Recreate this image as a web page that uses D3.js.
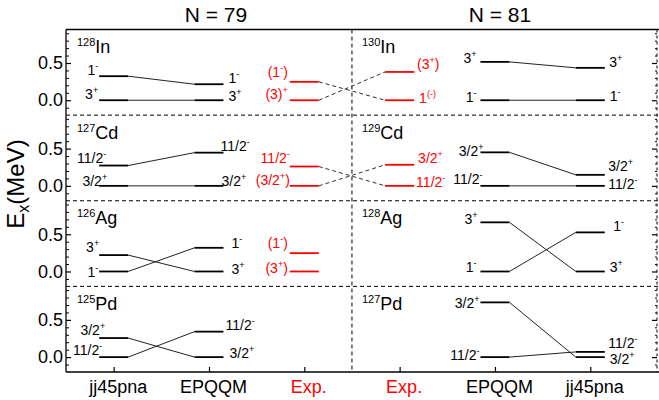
<!DOCTYPE html>
<html><head><meta charset="utf-8">
<script src="https://cdn.jsdelivr.net/npm/d3@7"></script>
<style>
body{margin:0;background:#fff}
svg{display:block}
text{font-family:"Liberation Sans",Arial,Helvetica,sans-serif;fill:#000}
</style>
</head><body>
<svg id="c" width="659" height="400"></svg>
<script>
// ---------------- data ----------------
const columns = ["jj45pna","EPQQM","Exp.","Exp.","EPQQM","jj45pna"];
const titles = ["N = 79","N = 81"];
const elements = ["In","Cd","Ag","Pd"];
const massN79 = ["128","127","126","125"];
const massN81 = ["130","129","128","127"];
const yTickValues = [0, 0.5];
const yTickLabels = ["0.0","0.5"];
const yMinorValues = [-0.1,0.1,0.2,0.3,0.4,0.6,0.7,0.8,0.9];

// state identities per row (In, Cd, Ag, Pd)
const spinsN79 = [["3+","1-"],["3/2+","11/2-"],["1-","3+"],["11/2-","3/2+"]];
const spinsN81 = [["1-","3+"],["11/2-","3/2+"],["1-","3+"],["11/2-","3/2+"]];
// excitation energies (MeV), same order as spins
const jjN79    = [[0,0.323],[0,0.273],[0,0.22],[0,0.256]];
const epqqmN79 = [[0,0.215],[0,0.446],[0.318,0],[0.342,0]];
const expN79   = [[0,0.247],[0,0.26],[0.246,0],null];
const expLabelsN79 = [["(3)^{+}","(1^{-})"],["(3/2^{+})","11/2^{-}"],["(1^{-})","(3^{+})"],null];
const jjN81    = [[0,0.435],[0,0.148],[0.525,0],[0.07,0]];
const epqqmN81 = [[0,0.515],[0,0.45],[0,0.66],[0,0.735]];
const expN81   = [[0,0.38],[0,0.283],null,null];
const expLabelsN81 = [["1^{(-)}","(3^{+})"],["11/2^{-}","3/2^{+}"],null,null];

// ---------------- layout (label nudges: [gap from line end px, baseline dy px]) ----------------
const nudgeN79 = [
  {jj:[[1,-1],[1,-1]], ep:[[5,1],[5,-1]], ex:[[2,-1],[2,-4.7]]},
  {jj:[[-8,0],[-7,-3]], ep:[[-2,0],[-3,-1.5]], ex:[[0,-1.3],[0,-4]]},
  {jj:[[1,6],[0,-3]], ep:[[8,0],[8,3]], ex:[[2,-5.3],[2,1.4]]},
  {jj:[[-3,-2],[-6,-3]], ep:[[2,-1.5],[6,1]], ex:null}
];
const nudgeN81 = [
  {ex:[[5,2.4],[3,-3]], ep:[[4,1.5],[4,1]], jj:[[5,0.5],[4.5,-1]]},
  {ex:[[2,1],[4,-2]], ep:[[-2,-1.5],[-3,4]], jj:[[3.5,3],[3.5,-4]]},
  {ex:null, ep:[[4,1],[3,2]], jj:[[8.5,-1.5],[5,1]]},
  {ex:null, ep:[[1,2.7],[1,5.5]], jj:[[3.5,-4.2],[5,7.2]]}
];

const svg = d3.select("#c");
const L = 66, R = 657, T = 29.5, B = 372;
const nRows = 4, ph = (B - T) / nRows;
const x = d3.scaleLinear().domain([0.5, 6.7]).range([L, R]);
const yRow = i => d3.scaleLinear().domain([-0.2, 0.95]).range([T + (i + 1) * ph, T + i * ph]);
const hw = 0.152;
const cw = x(1) - x(0);
const RED = "#ff0000";

function spinLabel(s){ return s.slice(0,-1) + "^{" + s.slice(-1) + "}"; }
function addRich(sel, str, fs, sfs, rise){
  const parts = str.split(/(\^\{[^}]*\})/).filter(p => p.length);
  let raised = false;
  parts.forEach(p => {
    if (p.startsWith("^{")) {
      sel.append("tspan").attr("font-size", sfs).attr("dy", -rise).text(p.slice(2, -1));
      raised = true;
    } else {
      const t = sel.append("tspan").attr("font-size", fs).text(p);
      if (raised) { t.attr("dy", rise); raised = false; }
    }
  });
}
function label(g, str, xp, yp, anchor, color){
  const t = g.append("text").attr("x", xp).attr("y", yp).attr("text-anchor", anchor)
    .style("fill", color);
  addRich(t, str, 14, 9, 6);
}

// ---------------- titles ----------------
svg.append("text").attr("x", 216).attr("y", 21.7).attr("text-anchor","middle")
  .attr("font-size", 21).text(titles[0]);
svg.append("text").attr("x", 500).attr("y", 21.7).attr("text-anchor","middle")
  .attr("font-size", 21).text(titles[1]);

// y label
const yl = svg.append("text").attr("transform","translate(24,184) rotate(-90)")
  .attr("text-anchor","middle").attr("font-size", 24);
yl.append("tspan").text("E");
yl.append("tspan").attr("font-size", 16).attr("dy", 5).text("x");
yl.append("tspan").attr("dy", -5).text("(MeV)");

// ---------------- frame ----------------
const frame = svg.append("g").attr("stroke","#000").attr("fill","none");
frame.append("line").attr("x1", L).attr("x2", R+2).attr("y1", T).attr("y2", T).attr("stroke-width", 1.3);
frame.append("line").attr("x1", L).attr("x2", L).attr("y1", T).attr("y2", B).attr("stroke-width", 1.3);
frame.append("line").attr("x1", L).attr("x2", R+2).attr("y1", B).attr("y2", B).attr("stroke-width", 1.3);
frame.append("line").attr("x1", R).attr("x2", R).attr("y1", T).attr("y2", B)
  .attr("stroke-width", 1).attr("stroke-dasharray","3,3");
for (let i = 1; i < nRows; i++) {
  frame.append("line").attr("x1", L).attr("x2", R+2).attr("y1", T + i*ph).attr("y2", T + i*ph)
    .attr("stroke-width", 1).attr("stroke-dasharray","4,3");
}
frame.append("line").attr("x1", x(3.5)).attr("x2", x(3.5)).attr("y1", T).attr("y2", B)
  .attr("stroke-width", 1).attr("stroke-dasharray","4,3");

// ---------------- axes ----------------
for (let i = 0; i < nRows; i++) {
  const y = yRow(i);
  const gl = svg.append("g").attr("transform", `translate(${L},0)`)
    .call(d3.axisLeft(y).tickValues(yTickValues).tickSize(-5).tickPadding(3)
      .tickFormat((d, k) => yTickLabels[k]));
  gl.select(".domain").remove();
  gl.selectAll("text").attr("font-size", 18).attr("font-family", null);
  gl.selectAll("line").attr("stroke-width", 1.2);
  const glm = svg.append("g").attr("transform", `translate(${L},0)`)
    .call(d3.axisLeft(y).tickValues(yMinorValues).tickSize(-3).tickFormat(""));
  glm.select(".domain").remove();
  const gr = svg.append("g").attr("transform", `translate(${R},0)`)
    .call(d3.axisRight(y).tickValues(yTickValues).tickSize(-5).tickFormat(""));
  gr.select(".domain").remove();
  gr.selectAll("line").attr("stroke-width", 1.2);
  const grm = svg.append("g").attr("transform", `translate(${R},0)`)
    .call(d3.axisRight(y).tickValues(yMinorValues).tickSize(-2).tickFormat(""));
  grm.select(".domain").remove();
}
const gx = svg.append("g").attr("transform", `translate(0,${B})`)
  .call(d3.axisBottom(x).tickValues([1,2,3,4,5,6]).tickSize(-5).tickPadding(8)
    .tickFormat(d => columns[d-1]));
gx.select(".domain").remove();
gx.selectAll("line").attr("stroke-width", 1.2);
gx.selectAll("text").attr("font-size", 18).attr("font-family", null).attr("dx", 4)
  .style("fill", d => columns[d-1] === "Exp." ? RED : "#000");

// ---------------- levels ----------------
const g = svg.append("g");
function levelLine(col, e, y, color){
  g.append("line").attr("x1", x(col) - hw*cw).attr("x2", x(col) + hw*cw)
    .attr("y1", y(e)).attr("y2", y(e)).attr("stroke", color).attr("stroke-width", 1.8);
}
function connector(c1, e1, c2, e2, y, dashed){
  g.append("line").attr("x1", x(c1) + hw*cw).attr("x2", x(c2) - hw*cw)
    .attr("y1", y(e1)).attr("y2", y(e2))
    .attr("stroke", dashed ? "#333" : "#222").attr("stroke-width", 1)
    .attr("stroke-dasharray", dashed ? "4,3" : null);
}

for (let i = 0; i < nRows; i++) {
  const y = yRow(i);
  const top = T + i*ph;
  // nucleus labels
  [[L + 11, massN79[i]], [x(3.5) + 10, massN81[i]]].forEach(([xx, m]) => {
    const t = svg.append("text").attr("x", xx).attr("y", top + 23.5);
    t.append("tspan").attr("font-size", 11).attr("dy", -7).text(m);
    t.append("tspan").attr("font-size", 18).attr("dy", 7).text(elements[i]);
  });

  // N = 79 side
  spinsN79[i].forEach((s, k) => {
    connector(1, jjN79[i][k], 2, epqqmN79[i][k], y, false);
    levelLine(1, jjN79[i][k], y, "#000");
    levelLine(2, epqqmN79[i][k], y, "#000");
    const nj = nudgeN79[i].jj[k], ne = nudgeN79[i].ep[k];
    label(g, spinLabel(s), x(1) - hw*cw - nj[0], y(jjN79[i][k]) + nj[1], "end", "#000");
    label(g, spinLabel(s), x(2) + hw*cw + ne[0], y(epqqmN79[i][k]) + ne[1], "start", "#000");
    if (expN79[i]) {
      levelLine(3, expN79[i][k], y, RED);
      const nx = nudgeN79[i].ex[k];
      label(g, expLabelsN79[i][k], x(3) - hw*cw - nx[0], y(expN79[i][k]) + nx[1], "end", RED);
    }
  });
  // N = 81 side
  spinsN81[i].forEach((s, k) => {
    connector(5, epqqmN81[i][k], 6, jjN81[i][k], y, false);
    levelLine(5, epqqmN81[i][k], y, "#000");
    levelLine(6, jjN81[i][k], y, "#000");
    const ne = nudgeN81[i].ep[k], nj = nudgeN81[i].jj[k];
    label(g, spinLabel(s), x(5) - hw*cw - ne[0], y(epqqmN81[i][k]) + ne[1], "end", "#000");
    label(g, spinLabel(s), x(6) + hw*cw + nj[0], y(jjN81[i][k]) + nj[1], "start", "#000");
    if (expN81[i]) {
      levelLine(4, expN81[i][k], y, RED);
      const nx = nudgeN81[i].ex[k];
      label(g, expLabelsN81[i][k], x(4) + hw*cw + nx[0], y(expN81[i][k]) + nx[1], "start", RED);
    }
  });
  // dashed experimental connections across N = 79 / N = 81
  if (expN79[i] && expN81[i]) {
    spinsN79[i].forEach((s, k) => {
      const j = spinsN81[i].indexOf(s);
      connector(3, expN79[i][k], 4, expN81[i][j], y, true);
    });
  }
}
</script>
</body></html>
